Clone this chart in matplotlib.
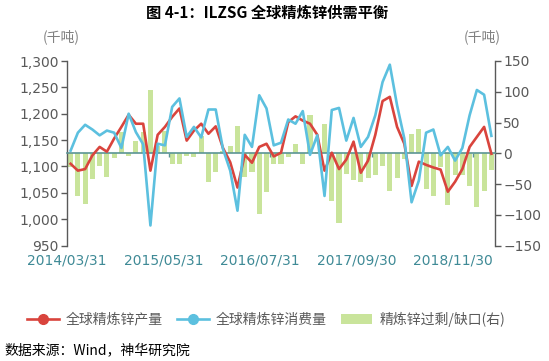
import matplotlib
matplotlib.use('Agg')
import matplotlib.pyplot as plt
import numpy as np
from matplotlib.lines import Line2D
from matplotlib.patches import Patch
from matplotlib.ticker import FuncFormatter

# ---------------- data ----------------
months = []
y, m = 2014, 3
for _ in range(59):
    months.append(f"{y}/{m:02d}")
    m += 1
    if m > 12:
        m = 1
        y += 1

production = [1105, 1092, 1095, 1121, 1137, 1128, 1153, 1175, 1198, 1181,
              1181, 1092, 1160, 1175, 1194, 1210, 1149, 1168, 1181, 1162,
              1176, 1135, 1108, 1060, 1122, 1107, 1137, 1143, 1119, 1126,
              1184, 1195, 1187, 1181, 1160, 1092, 1126, 1095, 1113, 1147,
              1088, 1111, 1160, 1224, 1232, 1175, 1143, 1063, 1109, 1103,
              1098, 1094, 1052, 1071, 1095, 1137, 1156, 1175, 1124]

consumption = [1130, 1164, 1179, 1170, 1159, 1168, 1164, 1135, 1200, 1165,
               1142, 988, 1143, 1140, 1213, 1229, 1156, 1175, 1155, 1208,
               1208, 1133, 1092, 1016, 1160, 1137, 1235, 1210, 1140, 1145,
               1189, 1181, 1205, 1122, 1159, 1044, 1207, 1211, 1149, 1192,
               1137, 1156, 1197, 1260, 1293, 1216, 1153, 1032, 1073, 1164,
               1170, 1121, 1137, 1111, 1135, 1197, 1245, 1236, 1158]

surplus = [-22, -70, -82, -42, -20, -39, -8, 35, -5, 20,
           35, 103, 12, 36, -17, -17, -5, -6, 28, -46,
           -30, 3, 12, 45, -38, -31, -99, -63, -18, -17,
           -6, 15, -17, 62, 2, 48, -77, -113, -34, -43,
           -47, -40, -35, -20, -62, -41, -10, 32, 40, -58,
           -70, -22, -84, -36, -36, -54, -87, -62, -28]

xtick_labels = ["2014/03/31", "2015/05/31", "2016/07/31", "2017/09/30", "2018/11/30"]
left_ticks = list(range(950, 1301, 50))
right_ticks = list(range(-150, 151, 50))

# ---------------- style ----------------
RED = '#d9443d'
BLUE = '#5cc0df'
GREEN = '#c9e49b'
GREY = '#595959'
TEAL = '#5b9594'
XLAB = '#3f8a96'
CJK = ['Noto Sans CJK SC', 'DejaVu Sans']

fig = plt.figure(figsize=(5.49, 3.61), dpi=100)
W, H = 549, 361
ax = fig.add_axes([67 / W, 1 - 245.5 / H, (495 - 67) / W, 184.5 / H])
ax2 = ax.twinx()
ax.set_zorder(ax2.get_zorder() + 1)
ax.patch.set_visible(False)

n = len(months)
x = np.arange(n)
ax2.bar(x, surplus, width=0.7, color=GREEN, zorder=1)
ax.plot(x, production, color=RED, lw=1.9, zorder=3)
ax.plot(x, consumption, color=BLUE, lw=1.9, zorder=3)

ax.set_xlim(-0.5, n - 0.5)
ax.set_ylim(950, 1300)
ax2.set_ylim(-150, 150)

ax.set_yticks(left_ticks)
ax.yaxis.set_major_formatter(FuncFormatter(lambda v, p: f"{v:,.0f}"))
ax2.set_yticks(right_ticks)

# x labels (positions as drawn in the reference)
label_pos = [-0.5, 12.8, 26.1, 39.4, 52.7]
ax.set_xticks(label_pos)
ax.set_xticklabels(xtick_labels)
ax.tick_params(axis='x', length=0, pad=6, labelsize=10, labelcolor=XLAB)

for a in (ax, ax2):
    for s in ('top', 'bottom'):
        a.spines[s].set_visible(False)
ax.spines['left'].set_visible(False)
ax.spines['right'].set_visible(False)
ax2.spines['left'].set_color(GREY)
ax2.spines['right'].set_color(GREY)
ax2.spines['left'].set_visible(True)
ax2.spines['left'].set_linewidth(1.0)
ax2.spines['right'].set_linewidth(1.0)

ax.tick_params(axis='y', direction='out', length=4, width=1.0, color=GREY,
               labelcolor=GREY, labelsize=10, pad=2)
ax2.tick_params(axis='y', direction='out', length=4, width=1.0, color=GREY,
                labelcolor=GREY, labelsize=10, pad=2)

# zero line with category ticks every 14 months
sec = ax.secondary_xaxis(0.5)
sec.set_alignment('bottom')
sec.spines['bottom'].set_color(TEAL)
sec.spines['bottom'].set_linewidth(1.2)
sec.spines['top'].set_visible(False)
sec.set_xticks([k - 0.5 for k in range(14, n, 14)])
sec.tick_params(axis='x', direction='out', length=3, width=1.0, color=TEAL,
                labelbottom=False, labeltop=False)

# texts
fig.text(267 / W, 1 - 13 / H, "图 4-1：ILZSG 全球精炼锌供需平衡", ha='center', va='center',
         fontsize=11, fontweight='bold', family=CJK, color='black')
fig.text(61 / W, 1 - 37 / H, "(千吨)", ha='center', va='center', fontsize=10,
         family=CJK, color='#808080')
fig.text(482 / W, 1 - 37 / H, "(千吨)", ha='center', va='center', fontsize=10,
         family=CJK, color='#808080')
fig.text(4 / W, 1 - 350 / H, "数据来源：Wind，神华研究院", ha='left', va='center',
         fontsize=10, family=CJK, color='black')

handles = [Line2D([], [], color=RED, lw=1.9, marker='o', markersize=7),
           Line2D([], [], color=BLUE, lw=1.9, marker='o', markersize=7),
           Patch(facecolor=GREEN, edgecolor='none')]
labels = ["全球精炼锌产量", "全球精炼锌消费量", "精炼锌过剩/缺口(右)"]
fig.legend(handles, labels, loc='center', bbox_to_anchor=(266 / W, 1 - 319 / H),
           ncol=3, frameon=False, prop={'family': CJK, 'size': 10},
           handlelength=2.3, handletextpad=0.5, columnspacing=1.0,
           labelcolor=GREY)

fig.savefig('out.png', dpi=100)
